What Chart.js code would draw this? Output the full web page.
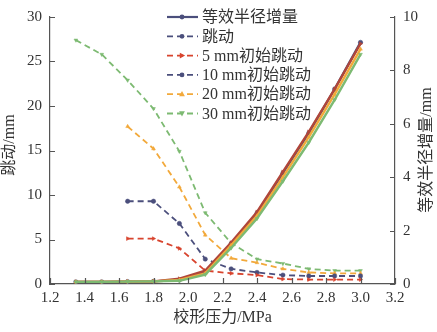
<!DOCTYPE html>
<html>
<head>
<meta charset="utf-8">
<script src="https://cdn.jsdelivr.net/npm/chart.js@4/dist/chart.umd.min.js"></script>
<style>
  html, body { margin: 0; padding: 0; background: #fff; }
  canvas { display: block; }
</style>
</head>
<body>
<canvas id="runoutChart" width="437" height="332"></canvas>
<script>
// 校形压力 (MPa)
const pressure = [1.35, 1.5, 1.65, 1.8, 1.95, 2.1, 2.25, 2.4, 2.55, 2.7, 2.85, 3.0];

// 跳动 / mm (left axis)
const runout5  = [null, null, 5.1, 5.1, 4.0, 1.5, 1.2, 1.0, 0.55, 0.5, 0.5, 0.5];
const runout10 = [null, null, 9.3, 9.3, 6.8, 2.8, 1.7, 1.3, 1.0, 0.9, 0.9, 0.9];
const runout20 = [null, null, 17.7, 15.2, 10.9, 5.5, 2.9, 2.4, 1.7, 1.3, 1.2, 1.2];
const runout30 = [27.4, 25.8, 22.9, 19.7, 14.9, 8.0, 4.6, 2.8, 2.3, 1.7, 1.5, 1.5];

// 等效半径增量 / mm (right axis)
const radius5  = [0.08, 0.08, 0.09, 0.1, 0.2, 0.5, 1.55, 2.7, 4.2, 5.7, 7.3, 9.0];
const radius10 = [0.08, 0.08, 0.09, 0.1, 0.15, 0.45, 1.5, 2.65, 4.15, 5.65, 7.3, 9.05];
const radius20 = [0.08, 0.08, 0.09, 0.1, 0.15, 0.4, 1.45, 2.55, 4.0, 5.5, 7.1, 8.8];
const radius30 = [0.08, 0.08, 0.09, 0.1, 0.12, 0.35, 1.35, 2.45, 3.85, 5.3, 6.9, 8.6];

const xTicks = [1.2, 1.4, 1.6, 1.8, 2.0, 2.2, 2.4, 2.6, 2.8, 3.0, 3.2];
const leftTicks = [0, 5, 10, 15, 20, 25, 30];
const rightTicks = [0, 2, 4, 6, 8, 10];

const legendItems = ['等效半径增量', '跳动', '5 mm初始跳动', '10 mm初始跳动', '20 mm初始跳动', '30 mm初始跳动'];

const FONT = '"Liberation Serif", "Noto Sans CJK SC", serif';
const NAVY = '#4b4f7c';
const RED = '#d8442e';
const RED_DARK = '#b0463a';
const ORANGE = '#f2a93b';
const GREEN = '#7dba72';

function pts(ys) {
    return pressure.map((x, i) => ({ x: x, y: ys[i] }));
}

function makeLine(label, ys, axis, color, solid, marker, rot, order) {
    return {
        label: label,
        data: pts(ys),
        yAxisID: axis,
        borderColor: color,
        backgroundColor: color,
        borderWidth: solid ? 2.4 : 1.8,
        borderDash: solid ? [] : [6, 4],
        pointStyle: marker,
        pointRotation: rot,
        pointRadius: 2.2,
        pointBorderWidth: 0.5,
        tension: 0,
        spanGaps: false,
        order: order
    };
}

// tiny marker drawer used for the legend samples
function drawMarker(ctx, style, rot, x, y, r, color) {
    ctx.save();
    ctx.translate(x, y);
    ctx.rotate(rot * Math.PI / 180);
    ctx.fillStyle = color;
    ctx.beginPath();
    if (style === 'triangle') {
        ctx.moveTo(0, -r * 1.3);
        ctx.lineTo(r * 1.2, r * 0.9);
        ctx.lineTo(-r * 1.2, r * 0.9);
        ctx.closePath();
    } else {
        ctx.arc(0, 0, r, 0, Math.PI * 2);
    }
    ctx.fill();
    ctx.restore();
}

const legendSamples = [
    { color: NAVY, dash: [], marker: 'circle', rot: 0 },
    { color: NAVY, dash: [6, 4], marker: 'circle', rot: 0 },
    { color: RED, dash: [6, 4], marker: 'triangle', rot: 90 },
    { color: NAVY, dash: [6, 4], marker: 'circle', rot: 0 },
    { color: ORANGE, dash: [6, 4], marker: 'triangle', rot: 0 },
    { color: GREEN, dash: [6, 4], marker: 'triangle', rot: 180 }
];

const decorPlugin = {
    id: 'decor',
    afterDraw(chart) {
        const ctx = chart.ctx;
        const area = chart.chartArea;
        const sx = chart.scales.x, sl = chart.scales.yL, sr = chart.scales.yR;

        // inward tick marks
        ctx.save();
        ctx.strokeStyle = '#555';
        ctx.lineWidth = 1.2;
        ctx.beginPath();
        xTicks.forEach(v => {
            const px = Math.round(sx.getPixelForValue(v)) + 0.5;
            ctx.moveTo(px, area.bottom);
            ctx.lineTo(px, area.bottom - 6);
        });
        leftTicks.forEach(v => {
            const py = Math.round(sl.getPixelForValue(v)) + 0.5;
            ctx.moveTo(area.left, py);
            ctx.lineTo(area.left + 5, py);
        });
        rightTicks.forEach(v => {
            const py = Math.round(sr.getPixelForValue(v)) + 0.5;
            ctx.moveTo(area.right, py);
            ctx.lineTo(area.right - 5, py);
        });
        ctx.stroke();
        ctx.restore();

        // axis titles
        ctx.save();
        ctx.fillStyle = '#333';
        ctx.font = '16px ' + FONT;
        ctx.textAlign = 'center';
        ctx.textBaseline = 'middle';
        ctx.fillText('校形压力/MPa', (area.left + area.right) / 2, 318);
        ctx.save();
        ctx.translate(10, 145);
        ctx.rotate(-Math.PI / 2);
        ctx.fillText('跳动/mm', 0, 0);
        ctx.restore();
        ctx.save();
        ctx.translate(427, 150);
        ctx.rotate(-Math.PI / 2);
        ctx.fillText('等效半径增量/mm', 0, 0);
        ctx.restore();
        ctx.restore();

        // legend
        ctx.save();
        ctx.font = '16px ' + FONT;
        ctx.textAlign = 'left';
        ctx.textBaseline = 'middle';
        legendItems.forEach((text, i) => {
            const y = 17 + i * 19.3;
            const s = legendSamples[i];
            ctx.strokeStyle = s.color;
            ctx.lineWidth = s.dash.length ? 1.8 : 2.2;
            ctx.setLineDash(s.dash);
            ctx.beginPath();
            ctx.moveTo(167, y);
            ctx.lineTo(198, y);
            ctx.stroke();
            ctx.setLineDash([]);
            drawMarker(ctx, s.marker, s.rot, 182, y, 2.4, s.color);
            ctx.fillStyle = '#333';
            ctx.fillText(text, 202, y + 1);
        });
        ctx.restore();
    }
};

new Chart(document.getElementById('runoutChart'), {
    type: 'line',
    data: {
        datasets: [
            makeLine('radius30', radius30, 'yR', GREEN, true, 'triangle', 180, 1),
            makeLine('radius20', radius20, 'yR', ORANGE, true, 'triangle', 0, 2),
            makeLine('radius5', radius5, 'yR', RED_DARK, true, 'triangle', 90, 3),
            makeLine('等效半径增量', radius10, 'yR', NAVY, true, 'circle', 0, 4),
            makeLine('5 mm初始跳动', runout5, 'yL', RED, false, 'triangle', 90, 5),
            makeLine('10 mm初始跳动', runout10, 'yL', NAVY, false, 'circle', 0, 6),
            makeLine('20 mm初始跳动', runout20, 'yL', ORANGE, false, 'triangle', 0, 7),
            makeLine('30 mm初始跳动', runout30, 'yL', GREEN, false, 'triangle', 180, 8)
        ]
    },
    options: {
        responsive: false,
        animation: false,
        devicePixelRatio: 1,
        layout: { padding: { top: 7, left: 0, right: 0, bottom: 0 } },
        plugins: {
            legend: { display: false },
            tooltip: { enabled: false }
        },
        scales: {
            x: {
                type: 'linear',
                min: 1.2,
                max: 3.2,
                afterFit: s => { s.height = 48; },
                afterBuildTicks: s => { s.ticks = xTicks.map(v => ({ value: v })); },
                grid: { display: false, drawTicks: false },
                border: { display: true, color: '#555', width: 1.2 },
                ticks: {
                    padding: 5,
                    color: '#333',
                    font: { family: FONT, size: 15 },
                    maxRotation: 0,
                    callback: v => v.toFixed(1)
                }
            },
            yL: {
                type: 'linear',
                position: 'left',
                min: 0,
                max: 30,
                afterFit: s => { s.width = 50; },
                afterBuildTicks: s => { s.ticks = leftTicks.map(v => ({ value: v })); },
                grid: { display: false, drawTicks: false },
                border: { display: true, color: '#555', width: 1.2 },
                ticks: {
                    padding: 8,
                    color: '#333',
                    font: { family: FONT, size: 15 }
                }
            },
            yR: {
                type: 'linear',
                position: 'right',
                min: 0,
                max: 10,
                afterFit: s => { s.width = 42; },
                afterBuildTicks: s => { s.ticks = rightTicks.map(v => ({ value: v })); },
                grid: { display: false, drawTicks: false },
                border: { display: true, color: '#555', width: 1.2 },
                ticks: {
                    padding: 8,
                    color: '#333',
                    font: { family: FONT, size: 15 }
                }
            }
        }
    },
    plugins: [decorPlugin]
});
</script>
</body>
</html>
